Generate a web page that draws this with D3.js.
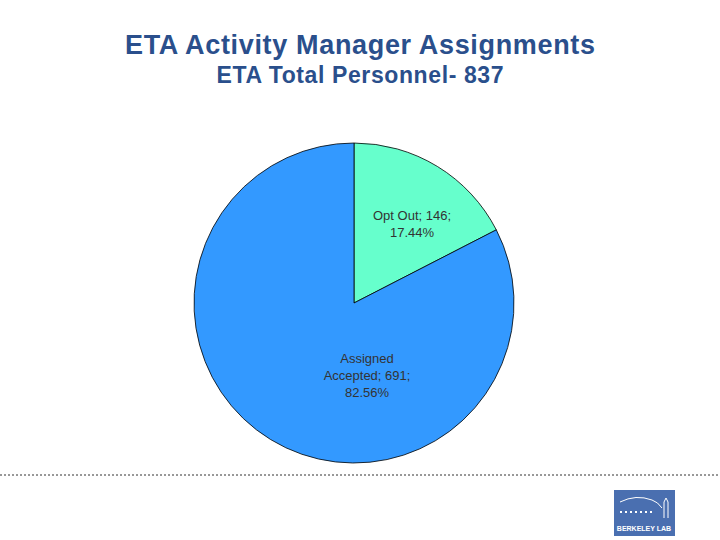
<!doctype html>
<html lang="en">
<head>
<meta charset="UTF-8">
<script src="https://cdn.jsdelivr.net/npm/d3@7"></script>
<style>body{margin:0;background:#fff}</style>
</head>
<body>
<div id="chart"></div>
<script>
var labels = ["Opt Out", "Assigned Accepted"];
var values = [146, 691];
var percents = ["17.44%", "82.56%"];
var colors = ["#66ffcc", "#3399ff"];

var width = 720, height = 540, cx = 354, cy = 303, r = 160;
var svg = d3.select("#chart").append("svg").attr("width", width).attr("height", height)
  .style("font-family", "Arial, 'Liberation Sans', sans-serif");

svg.append("text").attr("x", 360).attr("y", 54).attr("text-anchor", "middle")
  .attr("font-size", 27).attr("font-weight", "bold").attr("fill", "#2a4f8c")
  .attr("textLength", 470).attr("lengthAdjust", "spacing")
  .text("ETA Activity Manager Assignments");
svg.append("text").attr("x", 360).attr("y", 83).attr("text-anchor", "middle")
  .attr("font-size", 23).attr("font-weight", "bold").attr("fill", "#2a4f8c")
  .attr("textLength", 287).attr("lengthAdjust", "spacing")
  .text("ETA Total Personnel- 837");

var pie = d3.pie().sort(null).value(function(d){ return d; });
var arc = d3.arc().innerRadius(0).outerRadius(r);
var g = svg.append("g").attr("transform", "translate(" + cx + "," + cy + ")");
var arcs = pie(values);
g.selectAll("path").data(arcs).enter().append("path")
  .attr("d", arc).attr("fill", function(d, i){ return colors[i]; })
  .attr("stroke", "#000").attr("stroke-width", 0.8);

// label text lines per slice, and where Excel dropped them
var labelLines = [
  [labels[0] + "; " + values[0] + ";", percents[0]],
  ["Assigned", "Accepted; " + values[1] + ";", percents[1]]
];
var labelPos = [[58, -80], [13, 72]];
g.selectAll("text.lbl").data(arcs).enter().append("text")
  .attr("class", "lbl").attr("text-anchor", "middle").attr("font-size", 13).attr("fill", "#333")
  .each(function(d, i){
    var c = labelPos[i];
    var lines = labelLines[i];
    var t = d3.select(this);
    lines.forEach(function(s, k){
      t.append("tspan").attr("x", c[0]).attr("y", c[1] + (k - (lines.length - 1) / 2) * 17 + 5).text(s);
    });
  });

svg.append("line").attr("x1", 0).attr("x2", 720).attr("y1", 475).attr("y2", 475)
  .attr("stroke", "#333").attr("stroke-dasharray", "2,2");

// logo
var logo = svg.append("g").attr("transform", "translate(614,490)");
logo.append("rect").attr("width", 61).attr("height", 46).attr("fill", "#4a6fb0");
logo.append("path").attr("d", "M6,12 Q22,4 38,10 Q44,12 48,18").attr("stroke", "#fff").attr("fill", "none").attr("stroke-width", 1);
logo.append("line").attr("x1", 6).attr("x2", 40).attr("y1", 22).attr("y2", 22)
  .attr("stroke", "#fff").attr("stroke-width", 2).attr("stroke-dasharray", "2,3");
logo.append("path").attr("d", "M50,28 V12 L52,8 L54,12 V28").attr("stroke", "#fff").attr("fill", "none");
logo.append("text").attr("x", 30).attr("y", 41).attr("text-anchor", "middle").attr("font-size", 7)
  .attr("font-weight", "bold").attr("fill", "#fff").text("BERKELEY LAB");
</script>
</body>
</html>
